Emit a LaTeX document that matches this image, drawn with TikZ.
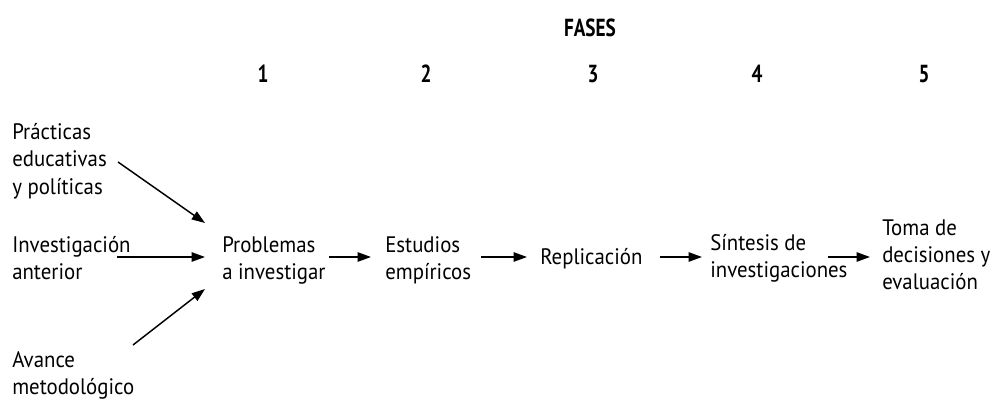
\documentclass[tikz,border=0pt]{standalone}
\usepackage{fontspec}
\setmainfont[FakeStretch=0.93]{PT Sans}
\newfontfamily\hdrfont[FakeStretch=0.78]{PT Sans Bold}
\usetikzlibrary{arrows.meta,calc}
\newcommand\stk[1]{\begin{tabular}[t]{@{}l@{}}#1\end{tabular}}
\begin{document}
\begin{tikzpicture}[x=0.75pt,y=-0.75pt,
  lbl/.style={inner sep=0pt, anchor=base west, font=\fontsize{16.8}{20.25}\selectfont},
  hdr/.style={inner sep=0pt, anchor=base, font=\hdrfont\fontsize{18.5}{20}\selectfont},
  arr/.style={line width=1.1pt, -{Triangle[length=10pt,width=7pt]}}]
\useasboundingbox (0,0) rectangle (991,406);
\coordinate (row) at (0,257);
\node[hdr] (fases) at (590,37) {FASES};
\node[hdr] (n1) at (263,83) {1};
\node[hdr] (n2) at (426,83) {2};
\node[hdr] (n3) at (593,83) {3};
\node[hdr] (n4) at (757,83) {4};
\node[hdr] (n5) at (924,83) {5};
\node[lbl] (pra) at (12,140) {\stk{Prácticas\\educativas\\y políticas}};
\node[lbl] (inv) at (12,252) {\stk{Investigación\\anterior}};
\node[lbl] (ava) at (12,367) {\stk{Avance\\metodológico}};
\node[lbl] (pro) at (222,252) {\stk{Problemas\\a investigar}};
\node[lbl] (est) at (385,252) {\stk{Estudios\\empíricos}};
\node[lbl] (rep) at (540,264) {Replicación};
\node[lbl] (sin) at (710,250) {\stk{Síntesis de\\investigaciones}};
\node[lbl] (tom) at (882,235) {\stk{Toma de\\decisiones y\\evaluación}};
\draw[arr] ($(pra.base west)+(106,22)$) -- ($(pro.west|-row)+(-17,-34)$);
\draw[arr] ($(inv.base west|-row)+(105,0)$) -- ($(pro.west|-row)+(-17,0)$);
\draw[arr] ($(ava.base west)+(121,-22)$) -- ($(pro.west|-row)+(-17,32)$);
\draw[arr] ($(pro.east|-row)+(3,0)$) -- ($(est.west|-row)+(-14,0)$);
\draw[arr] ($(est.east|-row)+(10,0)$) -- ($(rep.west|-row)+(-13,0)$);
\draw[arr] ($(rep.east|-row)+(17,0)$) -- ($(sin.west|-row)+(-8,0)$);
\draw[arr] ($(sin.east|-row)+(-20,0)$) -- ($(tom.west|-row)+(-12,0)$);
\end{tikzpicture}
\end{document}
